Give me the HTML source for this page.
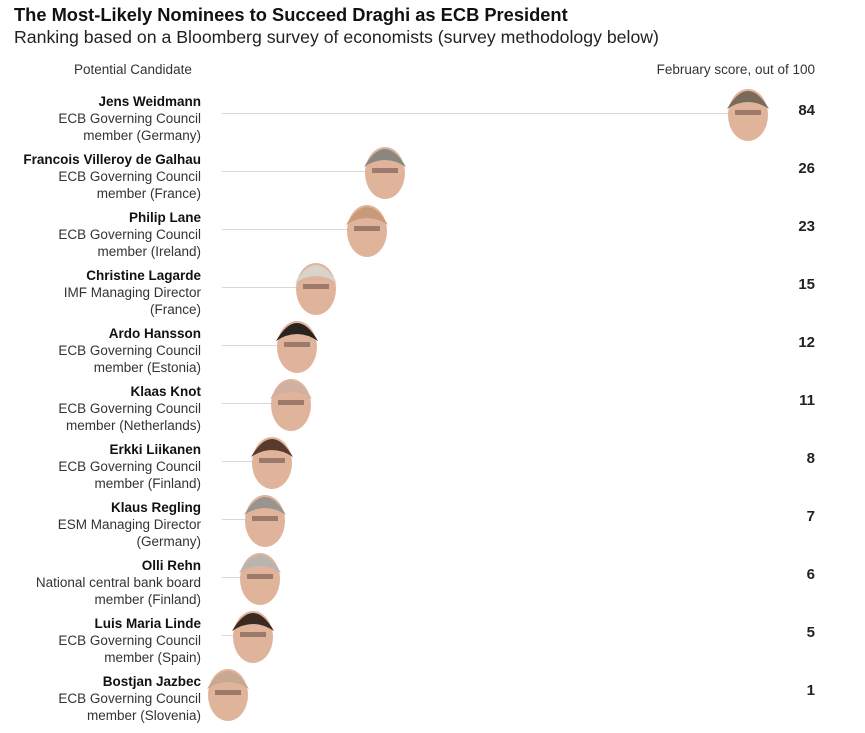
<!DOCTYPE html>
<html><head><meta charset="utf-8"><style>
body{margin:0;width:865px;height:733px;background:#fff;font-family:"Liberation Sans",Arial,sans-serif;color:#222;position:relative;overflow:hidden}
.t{position:absolute;left:14px;top:4px;font-size:18.3px;font-weight:bold;color:#111}
.s{position:absolute;left:14px;top:27px;font-size:17.7px;color:#222}
.h{position:absolute;font-size:13.5px;color:#333;top:62px}
.n{position:absolute;right:664px;width:240px;text-align:right;font-size:13.5px;line-height:17px;color:#333}
.n b{color:#111}
.sc{position:absolute;right:50px;font-size:15px;font-weight:bold;color:#222}
.l{position:absolute;left:222px;height:1px;background:#d8d8d8}
</style></head><body>
<div class="t">The Most-Likely Nominees to Succeed Draghi as ECB President</div>
<div class="s">Ranking based on a Bloomberg survey of economists (survey methodology below)</div>
<div class="h" style="left:74px">Potential Candidate</div>
<div class="h" style="right:50px">February score, out of 100</div>
<div id="rows"></div>
<svg width="865" height="733" style="position:absolute;left:0;top:0" id="faces"></svg>
<script>
var d=[["Jens Weidmann","ECB Governing Council","member (Germany)",84,748,"#7a6a5a"],
["Francois Villeroy de Galhau","ECB Governing Council","member (France)",26,385,"#8a8680"],
["Philip Lane","ECB Governing Council","member (Ireland)",23,367,"#c99a7a"],
["Christine Lagarde","IMF Managing Director","(France)",15,316,"#d8d4cc"],
["Ardo Hansson","ECB Governing Council","member (Estonia)",12,297,"#2a2420"],
["Klaas Knot","ECB Governing Council","member (Netherlands)",11,291,"#d0b0a0"],
["Erkki Liikanen","ECB Governing Council","member (Finland)",8,272,"#5a3a2a"],
["Klaus Regling","ESM Managing Director","(Germany)",7,265,"#9a9490"],
["Olli Rehn","National central bank board","member (Finland)",6,260,"#b8b4b0"],
["Luis Maria Linde","ECB Governing Council","member (Spain)",5,253,"#3a2a22"],
["Bostjan Jazbec","ECB Governing Council","member (Slovenia)",1,228,"#c8a890"]];
var h="",s="";
d.forEach(function(r,i){var y=113+58*i;
h+='<div class="n" style="top:'+(y-20)+'px"><b>'+r[0]+'</b><br>'+r[1]+'<br>'+r[2]+'</div>';
h+='<div class="sc" style="top:'+(y-11)+'px">'+r[3]+'</div>';
h+='<div class="l" style="top:'+y+'px;width:'+(r[4]-222)+'px"></div>';
s+='<ellipse cx="'+r[4]+'" cy="'+(y+2)+'" rx="20" ry="26" fill="#e0b49a"/>';
s+='<path d="M'+(r[4]-21)+' '+(y-4)+' Q'+r[4]+' '+(y-40)+' '+(r[4]+21)+' '+(y-4)+' Q'+r[4]+' '+(y-18)+' '+(r[4]-21)+' '+(y-4)+'Z" fill="'+r[5]+'"/>';
s+='<rect x="'+(r[4]-13)+'" y="'+(y-3)+'" width="26" height="5" fill="#5a4038" opacity=".5"/>';
});
document.getElementById('rows').innerHTML=h;
document.getElementById('faces').innerHTML=s;
</script>
</body></html>
